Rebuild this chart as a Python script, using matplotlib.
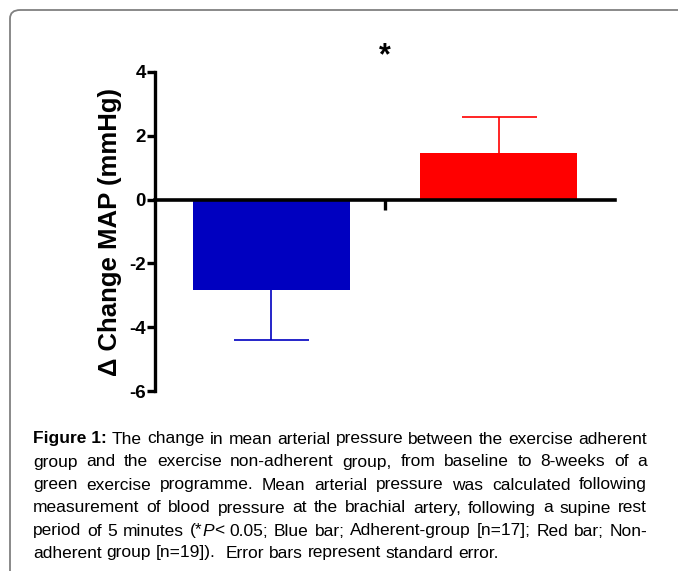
import matplotlib
matplotlib.use("Agg")
import matplotlib.pyplot as plt
from matplotlib.patches import FancyBboxPatch
from matplotlib import font_manager

groups = ["Adherent", "Non-adherent"]
change = [-2.83, 1.47]
se = [1.58, 1.12]
colors = ["#0000C0", "#FF0000"]
yticks = [4, 2, 0, -2, -4, -6]

caption_lines = [
    [[("Figure 1:", "bold", "normal")], [("The", "normal", "normal")], "change", "in", "mean", "arterial",
     "pressure", "between", "the", "exercise", "adherent"],
    ["group", "and", "the", "exercise", "non-adherent", "group,", "from", "baseline", "to", "8-weeks", "of", "a"],
    ["green", "exercise", "programme.", " Mean", "arterial", "pressure", "was", "calculated", "following"],
    ["measurement", "of", "blood", "pressure", "at", "the", "brachial", "artery,", "following", "a", "supine", "rest"],
    ["period", "of", "5", "minutes",
     [("(*", "normal", "normal"), ("P", "normal", "italic"), ("<", "normal", "normal")],
     "0.05;", "Blue", "bar;", "Adherent-group", "[n=17];", "Red", "bar;", "Non-"],
    ["adherent", "group", "[n=19]).", " Error", "bars", "represent", "standard", "error."],
]

names = {f.name for f in font_manager.fontManager.ttflist}
cap_font = "Liberation Sans Narrow" if "Liberation Sans Narrow" in names else "Liberation Sans"

W, H = 678, 571
fig = plt.figure(figsize=(W / 100, H / 100), dpi=100)
plt.rcParams["font.family"] = ["Liberation Sans", "DejaVu Sans"]

# frame round the figure
box = FancyBboxPatch((10 / W, -30 / H), 700 / W, 591 / H, transform=fig.transFigure,
                     boxstyle="round,pad=0,rounding_size=0.015", fc="none", ec="#808080", lw=1.3)
fig.patches.append(box)

ax = fig.add_axes([155 / W, 180 / H, 460 / W, 319 / H])
x = [0, 1]
ax.bar(x, change, width=0.69, color=colors, zorder=2)
# symmetric bars behind the columns, so only the outer half shows
for i in range(2):
    ax.errorbar(x[i], change[i], yerr=se[i], fmt="none",
                ecolor=colors[i], elinewidth=1.2, capsize=27, capthick=1.2, zorder=1)

ax.set_xlim(-0.51, 1.51)
ax.set_ylim(-6, 4)
ax.set_yticks(yticks)
ax.set_yticklabels([str(v) for v in yticks], fontweight="bold", fontsize=13.5)
ax.set_xticks([0.5])
ax.set_xticklabels([""])
ax.spines["top"].set_visible(False)
ax.spines["right"].set_visible(False)
ax.spines["bottom"].set_position(("data", 0))
ax.spines["bottom"].set_linewidth(2.6)
ax.spines["left"].set_linewidth(2.4)
ax.spines["bottom"].set_zorder(3)
ax.tick_params(axis="y", length=5.5, width=2.4, pad=1)
ax.tick_params(axis="x", length=7, width=2.4, direction="out")
ax.set_ylabel("Δ Change MAP (mmHg)", fontsize=18.5, fontweight="bold", labelpad=5)
ax.text(0.5, 4.5, "*", ha="center", va="center", fontsize=22, fontweight="bold")

# justified caption
renderer = fig.canvas.get_renderer()
left, right = 33, 647
line_y = [439, 462, 485, 508, 531, 553]


def seg_list(word):
    if isinstance(word, str):
        return [(word.strip(), "normal", "normal")]
    return word


def seg_width(s, wt, st, size):
    t = fig.text(0, 0, s, fontsize=size, fontweight=wt, fontstyle=st, family=cap_font)
    w = t.get_window_extent(renderer).width
    t.remove()
    return w


def natural_width(words, size):
    sp = seg_width("a b", "normal", "normal", size) - seg_width("ab", "normal", "normal", size)
    tot = sum(sum(seg_width(*s, size) for s in seg_list(w)) for w in words)
    return tot + sp * (len(words) - 1)


# largest size at which every full line still fits
size = 13.3
while max(natural_width(l, size) for l in caption_lines[:-1]) > right - left and size > 9:
    size -= 0.1

space = seg_width("a b", "normal", "normal", size) - seg_width("ab", "normal", "normal", size)

for li, words in enumerate(caption_lines):
    widths = [sum(seg_width(*s, size) for s in seg_list(w)) for w in words]
    last = li == len(caption_lines) - 1
    gap = space if last else (right - left - sum(widths)) / (len(words) - 1)
    xp = left
    yy = 1 - line_y[li] / H
    for w, wd in zip(words, widths):
        if last and isinstance(w, str) and w.startswith(" "):
            xp += space
        sx = xp
        for s, wt, st in seg_list(w):
            fig.text(sx / W, yy, s, fontsize=size, fontweight=wt, fontstyle=st,
                     family=cap_font, va="center", ha="left")
            sx += seg_width(s, wt, st, size)
        xp += wd + gap

fig.savefig("out.png", dpi=100)
